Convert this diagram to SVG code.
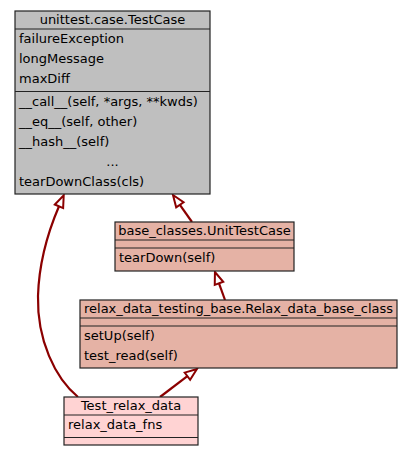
<svg xmlns="http://www.w3.org/2000/svg" width="414" height="456" viewBox="0 0 414 456">
<style>
text{font-family:"DejaVu Sans",sans-serif;font-size:13px;fill:#000}
.c{text-anchor:middle}
.box{stroke:#222;stroke-width:1.2}
.sep{stroke:#222;stroke-width:1.2}
.grey{fill:#bfbfbf}
.salmon{fill:#e5b2a5}
.pink{fill:#ffd3d3}
.edge{fill:none;stroke:#8b0000;stroke-width:2.2}
</style>
<defs>
<marker id="inh" markerUnits="userSpaceOnUse" markerWidth="14" markerHeight="12" refX="0" refY="6" orient="auto" overflow="visible">
<path d="M0,1.5 L12,6 L0,10.5 z" fill="#fff" stroke="#8b0000" stroke-width="2"/>
</marker>
</defs>
<rect width="414" height="456" fill="#fff"/>
<g id="edges">
<path class="edge" d="M192,222 L179.9,204.8" marker-end="url(#inh)"/>
<path class="edge" d="M225,300 L219,283.3" marker-end="url(#inh)"/>
<path class="edge" d="M160,397 L187.4,376.2" marker-end="url(#inh)"/>
<path class="edge" d="M78,397 C55,378 37,340 38,296 C39,262 48,232 59,206.3" marker-end="url(#inh)"/>
</g>
<g id="node-TestCase">
<rect class="box grey" x="15" y="11" width="195" height="183"/>
<line class="sep" x1="15" y1="29" x2="210" y2="29"/>
<line class="sep" x1="15" y1="91.5" x2="210" y2="91.5"/>
<text class="c" x="112.5" y="24">unittest.case.TestCase</text>
<text x="19" y="43">failureException</text>
<text x="19" y="63">longMessage</text>
<text x="19" y="83">maxDiff</text>
<text x="19" y="106">__call__(self, *args, **kwds)</text>
<text x="19" y="126">__eq__(self, other)</text>
<text x="19" y="146">__hash__(self)</text>
<text class="c" x="112.5" y="166">...</text>
<text x="19" y="186">tearDownClass(cls)</text>
</g>
<g id="node-UnitTestCase">
<rect class="box salmon" x="115" y="222" width="179" height="49"/>
<line class="sep" x1="115" y1="240" x2="294" y2="240"/>
<line class="sep" x1="115" y1="248" x2="294" y2="248"/>
<text class="c" x="204.5" y="235">base_classes.UnitTestCase</text>
<text x="119" y="262">tearDown(self)</text>
</g>
<g id="node-Relax_data_base_class">
<rect class="box salmon" x="80" y="300" width="317" height="68"/>
<line class="sep" x1="80" y1="318" x2="397" y2="318"/>
<line class="sep" x1="80" y1="326" x2="397" y2="326"/>
<text class="c" x="238.5" y="313">relax_data_testing_base.Relax_data_base_class</text>
<text x="84" y="340">setUp(self)</text>
<text x="84" y="360">test_read(self)</text>
</g>
<g id="node-Test_relax_data">
<rect class="box pink" x="64" y="397" width="134" height="48"/>
<line class="sep" x1="64" y1="415" x2="198" y2="415"/>
<line class="sep" x1="64" y1="437.5" x2="198" y2="437.5"/>
<text class="c" x="131" y="410">Test_relax_data</text>
<text x="68" y="429">relax_data_fns</text>
</g>
</svg>
